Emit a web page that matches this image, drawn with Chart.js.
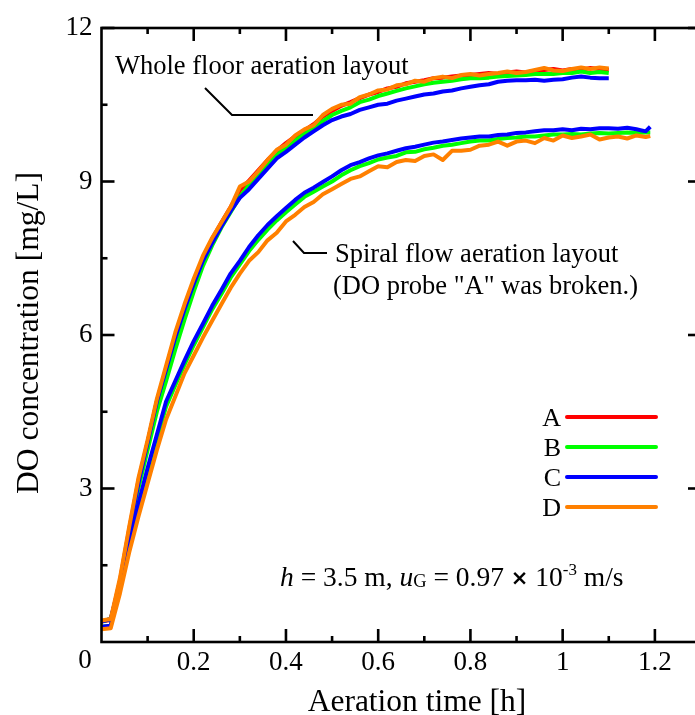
<!DOCTYPE html>
<html>
<head>
<meta charset="utf-8">
<script src="https://cdn.jsdelivr.net/npm/chart.js@4.4.1/dist/chart.umd.min.js"></script>
<style>
  html, body { margin: 0; padding: 0; background: #fff; overflow: hidden; }
  #wrap { width: 712px; height: 715px; }
</style>
</head>
<body>
<div id="wrap"><canvas id="doChart" width="712" height="715"></canvas></div>
<script>
// --- Data ---
// Whole floor aeration layout: probes A-D
const wfTime = [
  0, 0.02, 0.04, 0.06, 0.08, 0.1, 0.12, 0.14, 0.16, 0.18,
  0.2, 0.22, 0.24, 0.26, 0.28, 0.3, 0.32, 0.34, 0.36, 0.38,
  0.4, 0.42, 0.44, 0.46, 0.48, 0.5, 0.52, 0.54, 0.56, 0.58,
  0.6, 0.62, 0.64, 0.66, 0.68, 0.7, 0.72, 0.74, 0.76, 0.78,
  0.8, 0.82, 0.84, 0.86, 0.88, 0.9, 0.92, 0.94, 0.96, 0.98,
  1, 1.02, 1.04, 1.06, 1.08, 1.1
];
const wfA = [
  0.4, 0.43, 1.2, 2.2, 3.15, 3.9, 4.7, 5.35, 6.0, 6.55,
  7.05, 7.5, 7.88, 8.2, 8.5, 8.82, 9.02, 9.22, 9.42, 9.6,
  9.75, 9.88, 10.0, 10.12, 10.27, 10.38, 10.48, 10.55, 10.63, 10.7,
  10.75, 10.82, 10.85, 10.92, 10.95, 10.98, 11.02, 11.03, 11.05, 11.07,
  11.08, 11.1, 11.12, 11.1, 11.13, 11.15, 11.13, 11.16, 11.18, 11.2,
  11.17, 11.2, 11.18, 11.22, 11.2, 11.18
];
const wfB = [
  0.4, 0.45, 1.1, 2.05, 3.0, 3.75, 4.5, 5.1, 5.72, 6.3,
  6.85, 7.35, 7.75, 8.1, 8.4, 8.7, 8.93, 9.13, 9.33, 9.52,
  9.66, 9.8, 9.93, 10.05, 10.18, 10.3, 10.38, 10.45, 10.55, 10.6,
  10.67, 10.72, 10.77, 10.82, 10.86, 10.9, 10.93, 10.95, 10.97, 11.0,
  11.02, 11.02, 11.03, 11.05, 11.06, 11.07, 11.08, 11.1, 11.1, 11.1,
  11.12, 11.12, 11.15, 11.12, 11.14, 11.12
];
const wfC = [
  0.4, 0.45, 1.15, 2.15, 3.1, 3.9, 4.7, 5.32, 5.95, 6.5,
  7.0, 7.45, 7.8, 8.12, 8.42, 8.68, 8.85, 9.05, 9.25, 9.45,
  9.58, 9.72, 9.86, 9.98, 10.1, 10.2, 10.27, 10.32, 10.4, 10.45,
  10.5, 10.52, 10.58, 10.62, 10.66, 10.7, 10.72, 10.76, 10.78, 10.82,
  10.85, 10.88, 10.9, 10.95, 10.97, 10.98, 10.98, 10.99, 10.97, 10.99,
  11.0, 11.03, 11.05, 11.03, 11.02, 11.02
];
const wfD = [
  0.42, 0.45, 1.25, 2.25, 3.2, 3.95, 4.75, 5.4, 6.05, 6.6,
  7.1, 7.55, 7.9, 8.2, 8.5, 8.9, 9.0, 9.2, 9.42, 9.62,
  9.72, 9.9, 10.02, 10.1, 10.3, 10.42, 10.5, 10.52, 10.65, 10.7,
  10.78, 10.8, 10.88, 10.9, 10.97, 10.95, 11.02, 11.05, 11.02, 11.08,
  11.1, 11.07, 11.1, 11.12, 11.15, 11.12, 11.14, 11.18, 11.22, 11.17,
  11.16, 11.2, 11.23, 11.2, 11.23, 11.21
];

// Spiral flow aeration layout: probes B-D (A was broken)
const spTime = [
  0, 0.02, 0.04, 0.06, 0.08, 0.1, 0.12, 0.14, 0.16, 0.18,
  0.2, 0.22, 0.24, 0.26, 0.28, 0.3, 0.32, 0.34, 0.36, 0.38,
  0.4, 0.42, 0.44, 0.46, 0.48, 0.5, 0.52, 0.54, 0.56, 0.58,
  0.6, 0.62, 0.64, 0.66, 0.68, 0.7, 0.72, 0.74, 0.76, 0.78,
  0.8, 0.82, 0.84, 0.86, 0.88, 0.9, 0.92, 0.94, 0.96, 0.98,
  1, 1.02, 1.04, 1.06, 1.08, 1.1, 1.12, 1.14, 1.16, 1.18,
  1.19
];
const spB = [
  0.3, 0.32, 1.05, 1.88, 2.62, 3.32, 3.97, 4.6, 5.02, 5.42,
  5.8, 6.15, 6.5, 6.8, 7.12, 7.38, 7.64, 7.86, 8.06, 8.24,
  8.4, 8.55, 8.7, 8.8, 8.9, 9.0, 9.12, 9.22, 9.3, 9.36,
  9.43, 9.47, 9.5, 9.57, 9.58, 9.63, 9.66, 9.7, 9.72, 9.75,
  9.78, 9.8, 9.8, 9.83, 9.85, 9.86, 9.88, 9.88, 9.9, 9.92,
  9.92, 9.93, 9.92, 9.94, 9.95, 9.94, 9.95, 9.96, 9.95, 9.96,
  9.96
];
const spC = [
  0.3, 0.32, 1.1, 1.95, 2.7, 3.4, 4.05, 4.7, 5.1, 5.5,
  5.88, 6.22, 6.57, 6.88, 7.2, 7.45, 7.72, 7.95, 8.15, 8.32,
  8.48, 8.64, 8.78, 8.88, 8.99, 9.1, 9.22, 9.32, 9.38, 9.45,
  9.51, 9.55, 9.6, 9.65, 9.68, 9.72, 9.76, 9.78, 9.81, 9.84,
  9.86, 9.88, 9.88, 9.91, 9.92, 9.95, 9.96, 9.98, 10.0, 10.0,
  10.02, 10.0, 10.03, 10.02, 10.04, 10.04, 10.03, 10.05, 10.02, 9.98,
  10.07
];
const spD = [
  0.25, 0.27, 0.95, 1.75, 2.45, 3.1, 3.75, 4.35, 4.8, 5.25,
  5.6, 5.95, 6.28, 6.6, 6.92, 7.2, 7.45, 7.62, 7.85, 8.0,
  8.22, 8.35, 8.5, 8.6, 8.75, 8.85, 8.95, 9.05, 9.1, 9.2,
  9.3, 9.28, 9.38, 9.42, 9.4, 9.5, 9.53, 9.42, 9.6, 9.6,
  9.62, 9.7, 9.72, 9.78, 9.7, 9.78, 9.8, 9.75, 9.85, 9.8,
  9.9, 9.85, 9.88, 9.92, 9.82, 9.86, 9.88, 9.84, 9.9, 9.87,
  9.89
];

const probeNames = ['A', 'B', 'C', 'D'];
const probeColors = ['#ff0000', '#00ff00', '#0000ff', '#ff8000'];

const xTickLabels = [0.2, 0.4, 0.6, 0.8, 1, 1.2];
const yTickLabels = [3, 6, 9, 12];
const xMinorTicks = [0.1, 0.3, 0.5, 0.7, 0.9, 1.1];
const yMinorTicks = [1.5, 4.5, 7.5, 10.5];

const SERIF = "'Liberation Serif', 'Times New Roman', 'DejaVu Serif', serif";
const SANS = "'DejaVu Sans', 'Liberation Sans', sans-serif";

function series(times, vals) {
  return times.map((t, i) => ({ x: t, y: vals[i] }));
}

function lineSet(label, times, vals, probe) {
  const k = probeNames.indexOf(probe);
  return {
    label: label,
    data: series(times, vals),
    borderColor: probeColors[k],
    borderWidth: 4,
    pointRadius: 0,
    tension: 0,
    fill: false,
    borderJoinStyle: 'round',
    order: 4 - k // D on top, then C, B, A
  };
}

// Draw text pieces one after another (italic, sub/superscripts)
function drawRuns(ctx, runs, x, y) {
  runs.forEach(r => {
    ctx.font = (r.style || 'normal') + ' ' + (r.weight || 'normal') + ' ' + r.size + 'px ' + (r.family || SERIF);
    ctx.fillText(r.text, x, y + (r.dy || 0));
    x += ctx.measureText(r.text).width;
  });
}

function seg(ctx, pts) {
  ctx.beginPath();
  ctx.moveTo(pts[0][0], pts[0][1]);
  for (let i = 1; i < pts.length; i++) ctx.lineTo(pts[i][0], pts[i][1]);
  ctx.stroke();
}

// Frame, inward ticks, titles, notes and legend
const decorations = {
  id: 'decorations',
  afterDraw(chart) {
    const { ctx, chartArea: a, scales: { x, y } } = chart;
    ctx.save();
    ctx.strokeStyle = '#000';
    ctx.fillStyle = '#000';
    ctx.lineWidth = 2.6;
    ctx.lineCap = 'butt';
    ctx.strokeRect(a.left, a.top, a.right - a.left, a.bottom - a.top);

    const majorLen = 13, minorLen = 6;
    xTickLabels.forEach(v => {
      const p = x.getPixelForValue(v);
      seg(ctx, [[p, a.bottom], [p, a.bottom - majorLen]]);
      seg(ctx, [[p, a.top], [p, a.top + majorLen]]);
    });
    xMinorTicks.forEach(v => {
      const p = x.getPixelForValue(v);
      seg(ctx, [[p, a.bottom], [p, a.bottom - minorLen]]);
      seg(ctx, [[p, a.top], [p, a.top + minorLen]]);
    });
    yTickLabels.forEach(v => {
      const p = y.getPixelForValue(v);
      seg(ctx, [[a.left, p], [a.left + majorLen, p]]);
      seg(ctx, [[a.right, p], [a.right - majorLen, p]]);
    });
    yMinorTicks.forEach(v => {
      const p = y.getPixelForValue(v);
      seg(ctx, [[a.left, p], [a.left + minorLen, p]]);
      seg(ctx, [[a.right, p], [a.right - minorLen, p]]);
    });

    // shared zero at the corner
    ctx.font = '27px ' + SERIF;
    ctx.textAlign = 'center';
    ctx.textBaseline = 'alphabetic';
    ctx.fillText('0', 85, 668);

    // axis titles
    ctx.font = '31.5px ' + SERIF;
    ctx.fillText('Aeration time [h]', 417, 711);
    ctx.save();
    ctx.translate(38, 333);
    ctx.rotate(-Math.PI / 2);
    ctx.fillText('DO concentration [mg/L]', 0, 0);
    ctx.restore();

    // group notes with leader lines
    ctx.textAlign = 'left';
    ctx.font = '26.5px ' + SERIF;
    ctx.fillText('Whole floor aeration layout', 115, 74);
    ctx.fillText('Spiral flow aeration layout', 335, 262);
    ctx.fillText('(DO probe "A" was broken.)', 333, 294);
    ctx.lineWidth = 2;
    seg(ctx, [[205, 88], [232, 115], [313, 115]]);
    seg(ctx, [[293, 241], [304, 253], [327, 253]]);

    // legend
    ctx.textAlign = 'right';
    ctx.font = '26px ' + SERIF;
    probeNames.forEach((n, i) => {
      const ly = 417 + i * 30;
      ctx.fillStyle = '#000';
      ctx.fillText(n, 561, ly + 9);
      ctx.strokeStyle = probeColors[i];
      ctx.lineWidth = 4;
      ctx.lineCap = 'round';
      seg(ctx, [[567, ly], [656, ly]]);
    });

    // operating condition
    ctx.fillStyle = '#000';
    ctx.textAlign = 'left';
    drawRuns(ctx, [
      { text: 'h', size: 27.5, style: 'italic' },
      { text: ' = 3.5 m, ', size: 27.5 },
      { text: 'u', size: 27.5, style: 'italic' },
      { text: 'G', size: 18.5, dy: 1 },
      { text: ' = 0.97 ', size: 27.5 },
      { text: '\u00d7', size: 21, weight: 'bold', family: SANS, dy: -1 },
      { text: ' 10', size: 27.5 },
      { text: '-3', size: 17, dy: -11 },
      { text: ' m/s', size: 27.5 }
    ], 280, 586);
    ctx.restore();
  }
};

const ctx = document.getElementById('doChart').getContext('2d');
new Chart(ctx, {
  type: 'line',
  data: {
    datasets: [
      lineSet('Whole A', wfTime, wfA, 'A'),
      lineSet('Whole B', wfTime, wfB, 'B'),
      lineSet('Whole C', wfTime, wfC, 'C'),
      lineSet('Whole D', wfTime, wfD, 'D'),
      lineSet('Spiral B', spTime, spB, 'B'),
      lineSet('Spiral C', spTime, spC, 'C'),
      lineSet('Spiral D', spTime, spD, 'D')
    ]
  },
  options: {
    responsive: false,
    animation: false,
    devicePixelRatio: 1,
    layout: { padding: { top: 28, right: 11, left: 0, bottom: 0 } },
    plugins: { legend: { display: false }, tooltip: { enabled: false } },
    scales: {
      x: {
        type: 'linear',
        min: 0,
        max: 1.3,
        afterBuildTicks: s => { s.ticks = xTickLabels.map(v => ({ value: v })); },
        afterFit: s => { s.height = 73; },
        grid: { display: false, drawTicks: false },
        border: { display: false },
        ticks: {
          color: '#000',
          font: { family: SERIF, size: 27 },
          padding: 5,
          maxRotation: 0,
          autoSkip: false,
          callback: v => String(+v.toFixed(1))
        }
      },
      y: {
        type: 'linear',
        min: 0,
        max: 12,
        afterBuildTicks: s => { s.ticks = yTickLabels.map(v => ({ value: v })); },
        afterFit: s => { s.width = 101.5; },
        grid: { display: false, drawTicks: false },
        border: { display: false },
        ticks: {
          color: '#000',
          font: { family: SERIF, size: 27 },
          padding: 9,
          autoSkip: false,
          callback: v => String(v)
        }
      }
    }
  },
  plugins: [decorations]
});
</script>
</body>
</html>
